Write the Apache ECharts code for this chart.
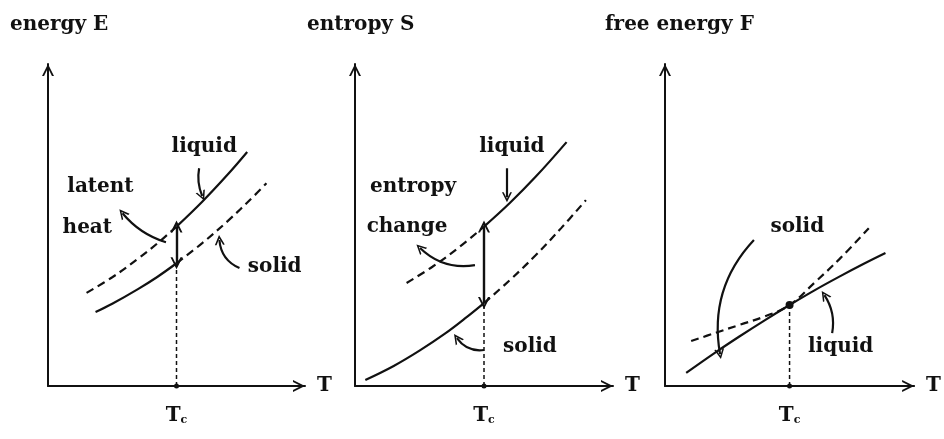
<!DOCTYPE html>
<html><head><meta charset="utf-8">
<script src="https://cdn.jsdelivr.net/npm/echarts@6/dist/echarts.min.js"></script>
<style>html,body{margin:0;padding:0;background:#fff}#c{width:944px;height:439px}</style>
</head><body><div id="c"></div>
<script>
// ---------- data (schematic values) ----------
const panelTitles = ['energy E', 'entropy S', 'free energy F'];
const xName = 'T';
const Tc = 5;

// energy E
const eLiquidSolid  = [[5,5.0],[6,5.78],[7,6.64],[7.75,7.34]];
const eLiquidDashed = [[1.5,2.92],[2.5,3.41],[3.5,3.99],[4.25,4.47],[5,5.0]];
const eSolidSolid   = [[1.85,2.32],[2.5,2.58],[3.5,3.04],[4.25,3.42],[5,3.85]];
const eSolidDashed  = [[5,3.85],[6,4.48],[7,5.18],[8,5.95],[8.5,6.36]];
const eJump         = [[5,3.85],[5,5.0]];
const eTcLine       = [[5,0],[5,3.85]];
const eLabelNames   = ['liquid','latent','heat','solid'];
const eLabelX       = [6.08, 2.04, 1.53, 8.82];
const eLabelY       = [7.49, 6.24, 4.95, 3.73];
const ePointers     = [[[5.88,6.83],[6.0,5.96]], [[4.59,4.51],[2.9,5.42]], [[7.45,3.7],[6.67,4.58]]];
const ePointerBend  = [-0.15, 0.15, 0.3];

// entropy S
const sLiquidSolid  = [[5,5.0],[6,5.74],[7,6.56],[8.2,7.65]];
const sLiquidDashed = [[2,3.23],[3,3.74],[4,4.33],[5,5.0]];
const sSolidSolid   = [[0.4,0.19],[1.5,0.63],[2.5,1.11],[3.5,1.65],[4.25,2.11],[5,2.6]];
const sSolidDashed  = [[5,2.6],[6,3.32],[7,4.1],[8,4.96],[8.95,5.83]];
const sJump         = [[5,2.6],[5,5.0]];
const sTcLine       = [[5,0],[5,2.6]];
const sLabelNames   = ['liquid','entropy','change','solid'];
const sLabelX       = [6.08, 2.25, 2.02, 6.78];
const sLabelY       = [7.49, 6.24, 4.98, 1.22];
const sPointers     = [[[5.89,6.83],[5.89,5.92]], [[4.65,3.79],[2.52,4.33]], [[5.0,1.13],[3.95,1.5]]];
const sPointerBend  = [0, 0.25, 0.3];

// free energy F
const fLiquidSolid  = [[0.85,0.41],[2,1.04],[3,1.56],[4,2.06],[5,2.54],[6,3.0],[7,3.43],[8,3.84],[8.85,4.17]];
const fSolidDashed  = [[1.05,1.41],[2,1.66],[3,1.92],[4,2.18],[5,2.54],[6,3.24],[7,3.98],[8.18,4.95]];
const fCross        = [[5,2.54]];
const fTcLine       = [[5,0],[5,2.54]];
const fLabelNames   = ['solid','liquid'];
const fLabelX       = [5.31, 7.05];
const fLabelY       = [4.98, 1.22];
const fPointers     = [[[3.57,4.58],[2.21,1.0]], [[6.71,1.66],[6.4,2.85]]];
const fPointerBend  = [-0.25, -0.2];

// ---------- styling / layout ----------
const INK = '#111';
const FONT = 'DejaVu Serif';
const CHEV = 'path://M0,10L5,0L10,10L8.3,10L5,3.4L1.7,10Z';
const gridLeft = [48, 355, 665];
const gridWidth = [257, 258, 258];

const textStyle = {fontFamily: FONT, fontWeight: 'bold', fontSize: 20, color: INK};

const grids = [], xAxes = [], yAxes = [], series = [], titles = [];
const titleLeft = [10, 307, 605];

for (let i = 0; i < 3; i++) {
  grids.push({left: gridLeft[i], top: 64, width: gridWidth[i], height: 322});
  titles.push({text: panelTitles[i], left: titleLeft[i], top: 15, padding: 0,
    textStyle: textStyle});
  const axisLine = {show: true, onZero: false, lineStyle: {color: INK, width: 2},
    symbol: ['none', CHEV], symbolSize: [15, 12], symbolOffset: [0, -6]};
  xAxes.push({gridIndex: i, type: 'value', min: 0, max: 10,
    axisLine: axisLine, axisTick: {show: false}, splitLine: {show: false},
    axisLabel: {show: true, customValues: [Tc], margin: 20,
      formatter: () => '{t|T}{s|c}',
      rich: {t: {fontFamily: FONT, fontWeight: 'bold', fontSize: 20, color: INK, verticalAlign: 'bottom'},
             s: {fontFamily: FONT, fontWeight: 'bold', fontSize: 11, color: INK, verticalAlign: 'bottom'}}},
    name: xName, nameLocation: 'end', nameGap: 12, nameTextStyle: textStyle});
  yAxes.push({gridIndex: i, type: 'value', min: 0, max: 10.1,
    axisLine: axisLine, axisTick: {show: false}, splitLine: {show: false},
    axisLabel: {show: false}});
}

function curve(idx, data, dashed) {
  series.push({type: 'line', xAxisIndex: idx, yAxisIndex: idx, data: data, smooth: 0.4,
    showSymbol: false, symbol: 'none', silent: true,
    lineStyle: {color: INK, width: 2.2, type: dashed ? [8, 5] : 'solid'}});
}
function tcLine(idx, data) {
  series.push({type: 'line', xAxisIndex: idx, yAxisIndex: idx, data: data, symbol: 'none',
    lineStyle: {color: INK, width: 1.5, type: [4, 3]}});
  series.push({type: 'scatter', xAxisIndex: idx, yAxisIndex: idx, data: [data[0]],
    symbolSize: 5, itemStyle: {color: INK, opacity: 1}});
}
function jump(idx, data) {
  series.push({type: 'lines', coordinateSystem: 'cartesian2d', xAxisIndex: idx, yAxisIndex: idx,
    symbol: [CHEV, CHEV], symbolSize: 12,
    lineStyle: {color: INK, width: 2.4, opacity: 1},
    data: [{coords: data}]});
}
function pointers(idx, list, bends) {
  list.forEach((c, k) => {
    series.push({type: 'lines', coordinateSystem: 'cartesian2d', xAxisIndex: idx, yAxisIndex: idx,
      symbol: ['none', CHEV], symbolSize: 10,
      lineStyle: {color: INK, width: 2.2, opacity: 1, curveness: bends[k]},
      data: [{coords: c}]});
  });
}
function labels(idx, names, xs, ys) {
  series.push({type: 'scatter', xAxisIndex: idx, yAxisIndex: idx, symbolSize: 0,
    itemStyle: {color: INK, opacity: 1},
    data: names.map((n, k) => ({name: n, value: [xs[k], ys[k]]})),
    label: {show: true, position: 'inside', formatter: p => p.name,
      fontFamily: FONT, fontWeight: 'bold', fontSize: 20, color: INK, opacity: 1,
      textBorderWidth: 0, textBorderColor: 'transparent'}});
}

// panel 1
curve(0, eLiquidSolid, false); curve(0, eLiquidDashed, true);
curve(0, eSolidSolid, false); curve(0, eSolidDashed, true);
tcLine(0, eTcLine); jump(0, eJump); pointers(0, ePointers, ePointerBend);
labels(0, eLabelNames, eLabelX, eLabelY);
// panel 2
curve(1, sLiquidSolid, false); curve(1, sLiquidDashed, true);
curve(1, sSolidSolid, false); curve(1, sSolidDashed, true);
tcLine(1, sTcLine); jump(1, sJump); pointers(1, sPointers, sPointerBend);
labels(1, sLabelNames, sLabelX, sLabelY);
// panel 3
curve(2, fLiquidSolid, false); curve(2, fSolidDashed, true);
tcLine(2, fTcLine);
series.push({type: 'scatter', xAxisIndex: 2, yAxisIndex: 2, data: fCross, symbolSize: 8,
  itemStyle: {color: INK, opacity: 1}});
pointers(2, fPointers, fPointerBend);
labels(2, fLabelNames, fLabelX, fLabelY);

const chart = echarts.init(document.getElementById('c'), null, {renderer: 'canvas'});
chart.setOption({animation: false, backgroundColor: '#fff', title: titles,
  grid: grids, xAxis: xAxes, yAxis: yAxes, series: series});
</script></body></html>
